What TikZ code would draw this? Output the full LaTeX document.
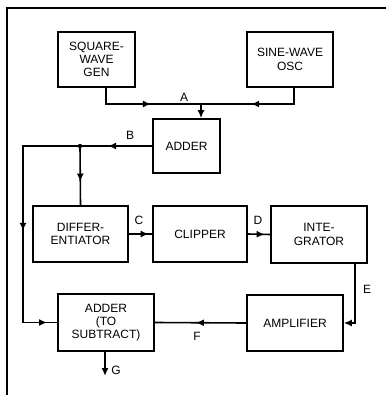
\documentclass[tikz,border=0pt]{standalone}
\usepackage{fontspec}
\setmainfont{Liberation Sans}
\usetikzlibrary{arrows.meta,decorations.markings}

\begin{document}
\begin{tikzpicture}[x=1pt,y=-1pt,line width=1.6pt,
  blk/.style={draw,align=center,inner sep=1pt,font=\fontsize{12}{13.3}\selectfont},
  lbl/.style={font=\fontsize{12}{13}\selectfont},
  tip/.style={-{Latex[length=8pt,width=7pt]}},
  midarr/.style={postaction={decorate,decoration={markings,
    mark=at position #1 with {\arrow{Latex[length=8pt,width=7pt]}}}}}]
\useasboundingbox (0,0) rectangle (386,395);
\draw (7,395) -- (7,8) -- (386,8);
\node[blk,minimum width=77pt,minimum height=55pt] (sq) at (96.5,59.5) {SQUARE-\\WAVE\\GEN};
\node[blk,minimum width=86pt,minimum height=55pt] (sine) at (290,59.5) {SINE-WAVE\\OSC};
\node[blk,minimum width=67pt,minimum height=54pt] (add) at (186.5,146) {ADDER};
\node[blk,minimum width=95pt,minimum height=56pt] (diff) at (80.5,234) {DIFFER-\\ENTIATOR};
\node[blk,minimum width=94pt,minimum height=56pt] (clip) at (200,234) {CLIPPER};
\node[blk,minimum width=96pt,minimum height=57pt] (integ) at (319,234.5) {INTE-\\GRATOR};
\node[blk,minimum width=96pt,minimum height=56pt] (amp) at (295,323) {AMPLIFIER};
\node[blk,minimum width=96pt,minimum height=57pt] (sub) at (106,322.5) {ADDER\\(TO\\SUBTRACT)};
\coordinate (jA) at (201,104);
\coordinate (jB) at (80,146);
\coordinate (bL) at (23,146);
\coordinate (gOut) at (105,376);
\draw[midarr=0.55] ([xshift=9.5pt]sq.south) |- (jA);
\draw[midarr=0.54] ([xshift=4pt]sine.south) |- (jA);
\draw[tip] (jA) -- (jA |- add.north);
\draw[midarr=0.13,midarr=0.63,midarr=0.97] (add.west) -- (bL) |- (sub.west);
\fill (jB) circle (2.2pt);
\draw[midarr=0.6] (jB) -- (diff.north);
\draw[midarr=0.85] (diff.east) -- (clip.west);
\draw[midarr=0.75] (clip.east) -- (integ.west);
\draw[tip] ([xshift=36pt]integ.south) |- (amp.east);
\draw[midarr=0.55] (amp.west) -- (sub.east);
\draw[tip] ([xshift=-1pt]sub.south) -- (gOut);
\node[lbl] (lA) at (184,97) {A};
\node[lbl] (lB) at (130,135) {B};
\node[lbl] (lC) at (139,220) {C};
\node[lbl] (lD) at (258,220) {D};
\node[lbl] (lE) at (367,289) {E};
\node[lbl] (lF) at (197,336) {F};
\node[lbl] (lG) at (116,370) {G};
\end{tikzpicture}
\end{document}
